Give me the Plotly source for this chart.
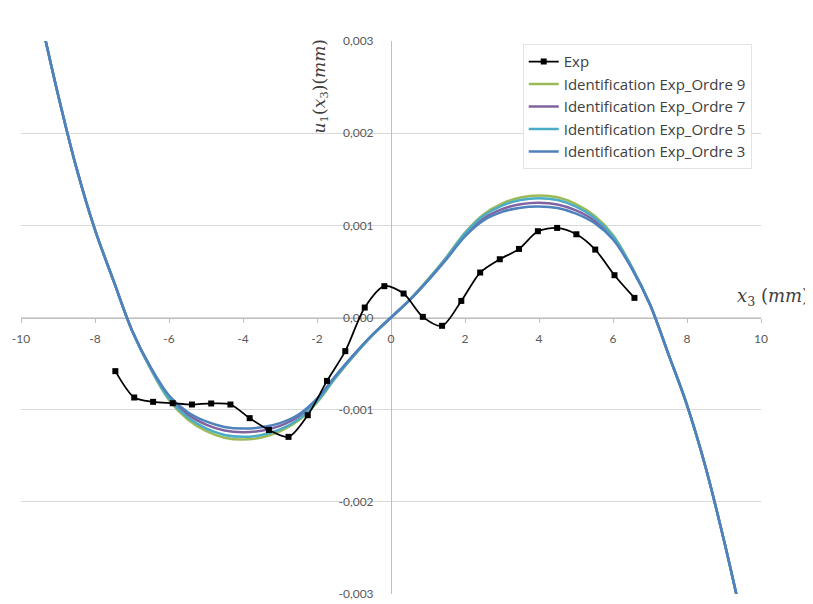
import plotly.graph_objects as go

# ---------------- data (mm) ----------------
x_fit = [-9.5, -9.0, -8.5, -8.0, -7.5, -7.0, -6.5, -6.0, -5.5, -5.0, -4.5, -4.0, -3.5, -3.0, -2.5, -2.0, -1.5, -1.0, -0.5,
         0.0, 0.5, 1.0, 1.5, 2.0, 2.5, 3.0, 3.5, 4.0, 4.5, 5.0, 5.5, 6.0, 6.5, 7.0, 7.5, 8.0, 8.5, 9.0, 9.5]

ordre9 = [3.30e-3, 2.42e-3, 1.62e-3, 0.95e-3, 0.40e-3, -0.14e-3, -0.555e-3, -0.894e-3, -1.103e-3, -1.230e-3, -1.304e-3, -1.325e-3, -1.302e-3, -1.236e-3, -1.119e-3, -0.922e-3, -0.657e-3, -0.414e-3, -0.192e-3,
          0.0, 0.192e-3, 0.414e-3, 0.657e-3, 0.922e-3, 1.119e-3, 1.236e-3, 1.302e-3, 1.325e-3, 1.304e-3, 1.230e-3, 1.103e-3, 0.894e-3, 0.555e-3, 0.14e-3, -0.40e-3, -0.95e-3, -1.62e-3, -2.42e-3, -3.30e-3]
ordre7 = [3.30e-3, 2.42e-3, 1.62e-3, 0.95e-3, 0.40e-3, -0.14e-3, -0.543e-3, -0.862e-3, -1.051e-3, -1.162e-3, -1.226e-3, -1.245e-3, -1.229e-3, -1.176e-3, -1.075e-3, -0.894e-3, -0.641e-3, -0.405e-3, -0.188e-3,
          0.0, 0.188e-3, 0.405e-3, 0.641e-3, 0.894e-3, 1.075e-3, 1.176e-3, 1.229e-3, 1.245e-3, 1.226e-3, 1.162e-3, 1.051e-3, 0.862e-3, 0.543e-3, 0.14e-3, -0.40e-3, -0.95e-3, -1.62e-3, -2.42e-3, -3.30e-3]
ordre5 = [3.30e-3, 2.42e-3, 1.62e-3, 0.95e-3, 0.40e-3, -0.14e-3, -0.551e-3, -0.882e-3, -1.083e-3, -1.204e-3, -1.275e-3, -1.295e-3, -1.275e-3, -1.214e-3, -1.103e-3, -0.912e-3, -0.651e-3, -0.410e-3, -0.190e-3,
          0.0, 0.190e-3, 0.410e-3, 0.651e-3, 0.912e-3, 1.103e-3, 1.214e-3, 1.275e-3, 1.295e-3, 1.275e-3, 1.204e-3, 1.083e-3, 0.882e-3, 0.551e-3, 0.14e-3, -0.40e-3, -0.95e-3, -1.62e-3, -2.42e-3, -3.30e-3]
ordre3 = [3.30e-3, 2.42e-3, 1.62e-3, 0.95e-3, 0.40e-3, -0.14e-3, -0.537e-3, -0.846e-3, -1.025e-3, -1.128e-3, -1.187e-3, -1.205e-3, -1.192e-3, -1.146e-3, -1.053e-3, -0.880e-3, -0.633e-3, -0.400e-3, -0.186e-3,
          0.0, 0.186e-3, 0.400e-3, 0.633e-3, 0.880e-3, 1.053e-3, 1.146e-3, 1.192e-3, 1.205e-3, 1.187e-3, 1.128e-3, 1.025e-3, 0.846e-3, 0.537e-3, 0.14e-3, -0.40e-3, -0.95e-3, -1.62e-3, -2.42e-3, -3.30e-3]

x_exp = [-7.45, -6.94, -6.43, -5.90, -5.38, -4.86, -4.34, -3.82, -3.30, -2.77, -2.25, -1.73, -1.235, -0.71, -0.18,
         0.34, 0.86, 1.38, 1.90, 2.41, 2.94, 3.46, 3.97, 4.49, 5.01, 5.52, 6.04, 6.58]
u_exp = [-0.582e-3, -0.868e-3, -0.915e-3, -0.930e-3, -0.944e-3, -0.933e-3, -0.944e-3, -1.092e-3, -1.220e-3, -1.295e-3, -1.060e-3, -0.688e-3, -0.365e-3, 0.108e-3, 0.340e-3,
         0.260e-3, 0.007e-3, -0.090e-3, 0.180e-3, 0.488e-3, 0.632e-3, 0.744e-3, 0.936e-3, 0.972e-3, 0.903e-3, 0.737e-3, 0.459e-3, 0.213e-3]

x_ticks = [-10, -8, -6, -4, -2, 0, 2, 4, 6, 8, 10]
x_ticktext = ["-10", "-8", "-6", "-4", "-2", "0", "2", "4", "6", "8", "10"]
y_ticks = [-0.003, -0.002, -0.001, 0.0, 0.001, 0.002, 0.003]
y_ticktext = ["-0,003", "-0,002", "-0,001", "0,000", "0,001", "0,002", "0,003"]

series = [
    ("Identification Exp_Ordre 9", ordre9, "#9BBB59", 2),
    ("Identification Exp_Ordre 7", ordre7, "#8064A2", 3),
    ("Identification Exp_Ordre 5", ordre5, "#4BACC6", 4),
    ("Identification Exp_Ordre 3", ordre3, "#4F81BD", 5),
]

FONT = "Lato, 'Open Sans', sans-serif"
LEG_FONT = "'Open Sans', Lato, sans-serif"
GRID = "#D9D9D9"
AXIS = "#BFBFBF"

fig = go.Figure()
for name, vals, col, rank in series:
    fig.add_trace(go.Scatter(x=x_fit, y=vals, name=name, mode="lines",
                             line=dict(color=col, width=2.5, shape="spline", smoothing=1.0),
                             legendrank=rank))
fig.add_trace(go.Scatter(x=x_exp, y=u_exp, name="Exp", mode="lines+markers",
                         line=dict(color="black", width=1.75, shape="spline", smoothing=0.8),
                         marker=dict(symbol="square", size=6, color="black"),
                         legendrank=1))

# page body has an 8px margin: figure is 805x596 so it fills the 813x604 window
fig.update_layout(
    width=805, height=596,
    margin=dict(l=13, r=52, t=33, b=10, autoexpand=False),
    paper_bgcolor="white", plot_bgcolor="white",
    font=dict(family=FONT, size=12, color="#595959"),
    showlegend=True,
    legend=dict(x=0.678, y=0.994, xanchor="left", yanchor="top",
                bgcolor="white", bordercolor="#E3E3E3", borderwidth=1,
                font=dict(family=LEG_FONT, size=15, color="#404040"),
                itemwidth=30, tracegroupgap=0),
    xaxis=dict(range=[-10, 10], anchor="free", position=0.5,
               tickvals=x_ticks, ticktext=x_ticktext,
               showgrid=False, zeroline=False, showline=True, linecolor=AXIS, linewidth=1,
               ticks="outside", ticklen=4, tickcolor=AXIS, ticklabelstandoff=6,
               layer="below traces", fixedrange=True, automargin=False),
    xaxis2=dict(range=[-10, 10], overlaying="x", anchor="free", position=0.5,
                tickvals=x_ticks, showticklabels=False,
                showgrid=False, zeroline=False, showline=False,
                ticks="inside", ticklen=4, tickcolor=AXIS, layer="below traces", automargin=False),
    yaxis=dict(range=[-0.003, 0.003], anchor="free", position=0.5, side="left",
               tickvals=y_ticks, ticktext=y_ticktext,
               showgrid=True, gridcolor=GRID, gridwidth=1,
               zeroline=False, showline=True, linecolor=AXIS, linewidth=1,
               ticks="", ticklabelstandoff=15,
               layer="below traces", fixedrange=True, automargin=False),
)

fig.add_annotation(xref="paper", yref="paper", x=0.405, y=0.919, showarrow=False,
                   text="<i>u</i><sub>1</sub>(<i>x</i><sub>3</sub>)(<i>mm</i>)", textangle=-90,
                   font=dict(family="DejaVu Serif", size=17, color="#404040"),
                   xanchor="center", yanchor="middle")
fig.add_annotation(xref="paper", yref="paper", x=1.067, y=0.5368, showarrow=False,
                   text="<i>x</i><sub>3</sub> (<i>mm</i>)",
                   font=dict(family="DejaVu Serif", size=18, color="#404040"),
                   xanchor="right", yanchor="middle")

fig.write_html("out.html")
